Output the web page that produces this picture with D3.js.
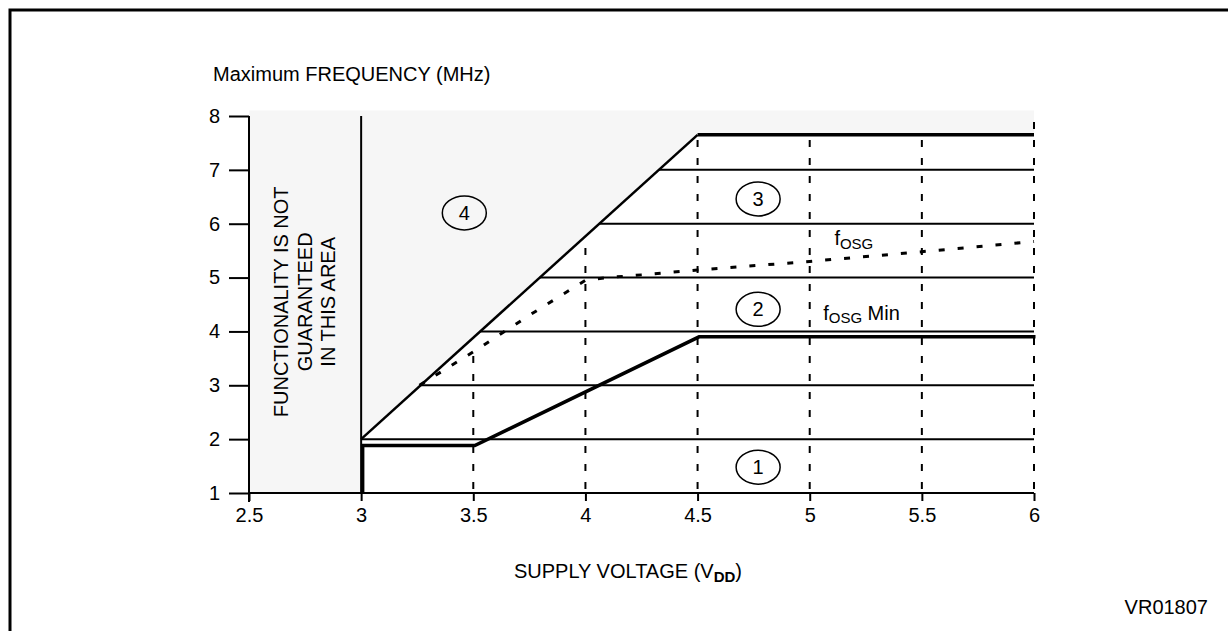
<!DOCTYPE html>
<html>
<head>
<meta charset="utf-8">
<script src="https://cdn.jsdelivr.net/npm/d3@7"></script>
<style>
  body { margin: 0; background: #fff; }
  text { font-family: "Liberation Sans", Arial, sans-serif; fill: #000; }
</style>
</head>
<body>
<div id="wrapper"></div>
<script>
// data
const xTicks = [2.5, 3, 3.5, 4, 4.5, 5, 5.5, 6]
const yTicks = [1, 2, 3, 4, 5, 6, 7, 8]
const gridLevels = [1, 2, 3, 4, 5, 6, 7]
// upper limit of the guaranteed area (solid boundary)
const upperLimit = [[3, 2], [4.5, 7.65], [6, 7.65]]
// fOSG Min curve
const minCurve = [[3, 1], [3, 1.88], [3.5, 1.88], [4.5, 3.9], [6, 3.9]]
// fOSG typical curve (dotted)
const fosgCurve = [[3.26, 3.0], [3.5, 3.62], [3.75, 4.3], [4.0, 4.95], [4.1, 5.0], [4.25, 5.05],
                   [4.5, 5.14], [5.0, 5.3], [5.5, 5.48], [6.0, 5.67]]
// dashed verticals: voltage and how high they go
const dashV = [3.5, 4, 4.5, 5, 5.5, 6]
const dashTop = [3.6, 5.56, 7.65, 7.65, 7.65, 8]
const shadeTop = 8.1
// circled region numbers
const regionNames = ["1", "2", "3", "4"]
const regionV = [4.77, 4.77, 4.77, 3.46]
const regionF = [1.48, 4.41, 6.46, 6.2]

const dimensions = {
    width: 1228,
    height: 631,
    margin: { top: 116, right: 194, bottom: 138, left: 249 },
}
dimensions.boundedWidth = dimensions.width - dimensions.margin.left - dimensions.margin.right
dimensions.boundedHeight = dimensions.height - dimensions.margin.top - dimensions.margin.bottom

const fontSize = "20px"

const wrapper = d3.select("#wrapper")
    .append("svg")
    .attr("width", dimensions.width)
    .attr("height", dimensions.height)

// frame
wrapper.append("rect")
    .attr("x", 10).attr("y", 10)
    .attr("width", 1300).attr("height", 700)
    .attr("fill", "none").attr("stroke", "#000").attr("stroke-width", 3)

const bounds = wrapper.append("g")
    .attr("transform", `translate(${dimensions.margin.left},${dimensions.margin.top})`)

const x = d3.scaleLinear().domain([2.5, 6]).range([0, dimensions.boundedWidth])
const y = d3.scaleLinear().domain([1, 8]).range([dimensions.boundedHeight, 0])

const line = d3.line().x(d => x(d[0])).y(d => y(d[1]))

// voltage where the upper limit reaches a frequency
const limitV = f => {
    const [a, b] = upperLimit
    return a[0] + (f - a[1]) / (b[1] - a[1]) * (b[0] - a[0])
}

// shaded "not guaranteed" area
const shade = [[2.5, 1], [2.5, shadeTop], [6, shadeTop], ...upperLimit.slice().reverse(), [3, 1]]
bounds.append("path")
    .attr("d", line(shade) + "Z")
    .attr("fill", "#f6f6f6")

// horizontal grid lines
bounds.append("g")
    .selectAll("line")
    .data(gridLevels)
    .join("line")
    .attr("x1", d => d == 1 ? x(2.5) : d == 2 ? x(3) : x(limitV(d)))
    .attr("x2", x(6))
    .attr("y1", d => y(d))
    .attr("y2", d => y(d))
    .attr("stroke", "#000")
    .attr("stroke-width", 2)

// dashed verticals
bounds.append("g")
    .selectAll("line")
    .data(dashV)
    .join("line")
    .attr("x1", d => x(d)).attr("x2", d => x(d))
    .attr("y1", y(1))
    .attr("y2", (d, i) => y(dashTop[i]))
    .attr("stroke", "#000")
    .attr("stroke-width", 2)
    .attr("stroke-dasharray", "7,11")
    .attr("stroke-dashoffset", 14)

// x = 3 boundary
bounds.append("line")
    .attr("x1", x(3)).attr("x2", x(3))
    .attr("y1", y(1)).attr("y2", y(8))
    .attr("stroke", "#000").attr("stroke-width", 2)

// axes
const yAxisGen = d3.axisLeft(y).tickValues(yTicks).tickSize(20).tickPadding(9).tickFormat(d => d)
const yAxis = bounds.append("g").call(yAxisGen)
yAxis.select(".domain").remove()
yAxis.selectAll("line").attr("stroke-width", 2)
yAxis.selectAll("text").attr("font-size", fontSize).attr("font-family", null)

const xAxisGen = d3.axisBottom(x).tickValues(xTicks).tickSize(8).tickPadding(7).tickFormat(d => d)
const xAxis = bounds.append("g")
    .attr("transform", `translate(0,${dimensions.boundedHeight})`)
    .call(xAxisGen)
xAxis.select(".domain").remove()
xAxis.selectAll("line").attr("stroke-width", 2)
xAxis.selectAll("text").attr("font-size", fontSize).attr("font-family", null)

bounds.append("line")
    .attr("x1", 0).attr("x2", 0)
    .attr("y1", y(8)).attr("y2", y(1) + 9)
    .attr("stroke", "#000").attr("stroke-width", 2)

// curves
bounds.append("path")
    .attr("d", line(fosgCurve))
    .attr("fill", "none").attr("stroke", "#000")
    .attr("stroke-width", 3).attr("stroke-dasharray", "6,13")

bounds.append("path")
    .attr("d", line(upperLimit.slice(0, 2)))
    .attr("fill", "none").attr("stroke", "#000").attr("stroke-width", 2.5)
bounds.append("path")
    .attr("d", line(upperLimit.slice(1)))
    .attr("fill", "none").attr("stroke", "#000").attr("stroke-width", 3.5)

bounds.append("path")
    .attr("d", line(minCurve))
    .attr("transform", "translate(1.5,0)")
    .attr("fill", "none").attr("stroke", "#000")
    .attr("stroke-width", 3.5).attr("stroke-linejoin", "miter")

// circled region numbers
const regions = bounds.append("g")
    .selectAll("g")
    .data(regionNames)
    .join("g")
    .attr("transform", (d, i) => `translate(${x(regionV[i])},${y(regionF[i])})`)
regions.append("ellipse")
    .attr("rx", 22).attr("ry", 17)
    .attr("fill", "none").attr("stroke", "#000").attr("stroke-width", 1.5)
regions.append("text")
    .attr("y", 7)
    .attr("text-anchor", "middle")
    .attr("font-size", fontSize)
    .text(d => d)

// curve labels
const fLabel = bounds.append("text")
    .attr("x", x(5.11)).attr("y", y(5.6))
    .attr("font-size", fontSize)
fLabel.append("tspan").text("f")
fLabel.append("tspan").attr("dy", 4).attr("font-size", "15px").text("OSG")

const fMinLabel = bounds.append("text")
    .attr("x", x(5.06)).attr("y", y(4.21))
    .attr("font-size", fontSize)
fMinLabel.append("tspan").text("f")
fMinLabel.append("tspan").attr("dy", 3).attr("font-size", "15px").text("OSG")
fMinLabel.append("tspan").attr("dy", -3).text(" Min")

// rotated note in the shaded area
const note = ["FUNCTIONALITY IS NOT", "GUARANTEED", "IN THIS AREA"]
bounds.append("g")
    .selectAll("text")
    .data(note)
    .join("text")
    .attr("transform", (d, i) => `translate(${39 + i * 23.5},${y(4.55)}) rotate(-90)`)
    .attr("text-anchor", "middle")
    .attr("font-size", fontSize)
    .text(d => d)

// titles
wrapper.append("text")
    .attr("x", 213).attr("y", 81)
    .attr("font-size", fontSize)
    .text("Maximum FREQUENCY (MHz)")

const xLabel = wrapper.append("text")
    .attr("x", 628).attr("y", 578)
    .attr("text-anchor", "middle")
    .attr("font-size", fontSize)
xLabel.append("tspan").text("SUPPLY VOLTAGE (V")
xLabel.append("tspan").attr("dy", 4).attr("font-size", "15px").attr("font-weight", "bold").text("DD")
xLabel.append("tspan").attr("dy", -4).text(")")

wrapper.append("text")
    .attr("x", 1208).attr("y", 614)
    .attr("text-anchor", "end")
    .attr("font-size", fontSize)
    .text("VR01807")
</script>
</body>
</html>
